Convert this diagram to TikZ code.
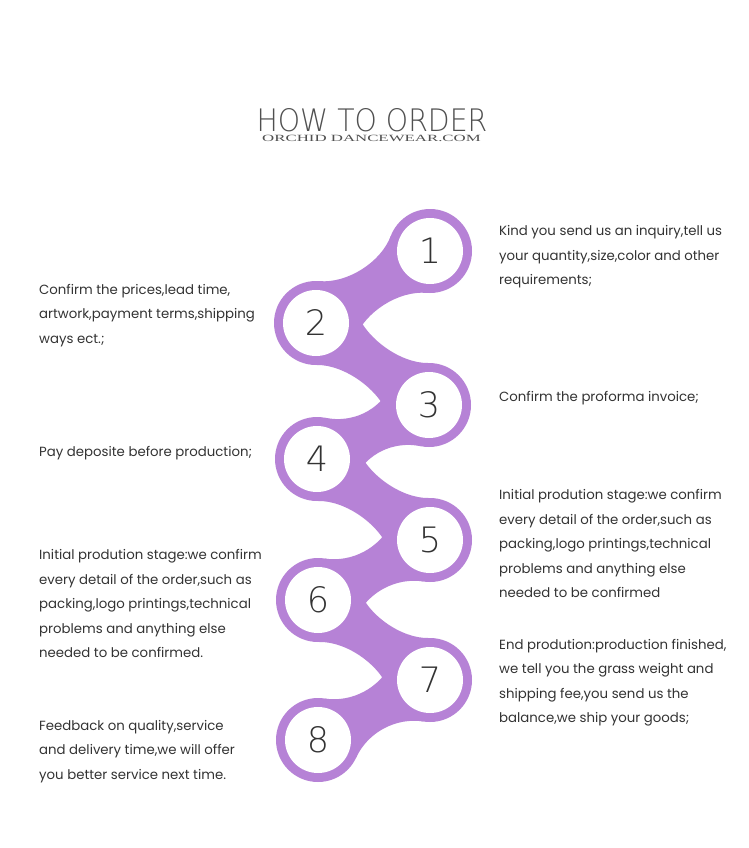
\documentclass[tikz,border=0pt]{standalone}
\usepackage{fontspec}
\usepackage{graphicx}
\setmainfont{Poppins}
\newfontfamily\thinfont{DejaVuSans-ExtraLight.ttf}
\newfontfamily\serifcaps{Liberation Serif}
\usetikzlibrary{calc}
\definecolor{orchid}{RGB}{182,130,214}
\definecolor{txtgray}{RGB}{51,51,51}
\definecolor{titlegray}{RGB}{80,80,80}
\def\R{42}
\def\A{53}
\def\S{28}
\pgfmathsetmacro\Rc{sqrt(\R*\R+\S*\S)}
\pgfmathsetmacro\Ac{\A-atan(\S/\R)}
\newcommand\blobpair[2]{%
  \fill[orchid] ($(#1)!\R pt!\A:(#2)$)
    .. controls ($(#1)!\Rc pt!\Ac:(#2)$) and ($(#2)!\Rc pt!-\Ac:(#1)$) .. ($(#2)!\R pt!-\A:(#1)$)
    -- ($(#2)!\R pt!\A:(#1)$)
    .. controls ($(#2)!\Rc pt!\Ac:(#1)$) and ($(#1)!\Rc pt!-\Ac:(#2)$) .. ($(#1)!\R pt!-\A:(#2)$)
    -- cycle;}
\begin{document}
\begin{tikzpicture}[x=1pt,y=-1pt,
  hole/.style={circle, fill=white, minimum size=66pt, inner sep=0pt,
    font=\thinfont\fontsize{35}{35}\selectfont, text=txtgray},
  txt/.style={anchor=base west, inner sep=0pt,
    font=\fontsize{13.3}{15}\selectfont, text=txtgray}]
\useasboundingbox[fill=white] (0,0) rectangle (749,848);
% title
\node[anchor=base, inner sep=0pt, text=titlegray,
  font=\thinfont\fontsize{31}{31}\selectfont] (title) at (372,131.5)
  {\scalebox{0.915}[1]{HOW TO ORDER}};
\node[anchor=base, inner sep=0pt, text=titlegray,
  font=\serifcaps\fontsize{9.5}{9.5}\selectfont] (sub) at (371.5,141.5)
  {\scalebox{1.77}[1]{ORCHID DANCEWEAR.COM}};
% circle centres
\coordinate (p1) at (430,251);
\coordinate (p2) at (316,323);
\coordinate (p3) at (429,405);
\coordinate (p4) at (317,459);
\coordinate (p5) at (430,540);
\coordinate (p6) at (318,600);
\coordinate (p7) at (430,680);
\coordinate (p8) at (318,740);
% purple body
\foreach \i in {1,...,8} \fill[orchid] (p\i) circle (\R);
\blobpair{p1}{p2}
\blobpair{p2}{p3}
\blobpair{p3}{p4}
\blobpair{p4}{p5}
\blobpair{p5}{p6}
\blobpair{p6}{p7}
\blobpair{p7}{p8}
% white holes with numbers
\foreach \i in {1,...,8} \node[hole] (c\i) at (p\i) {\i};
% texts right
\foreach \l [count=\i] in {{Kind you send us an inquiry,tell us},{your quantity,size,color and other},{requirements;}}
  \node[txt] (t1-\i) at (499,{235.5+24.5*(\i-1)}) {\l};
\node[txt] (t3-1) at (499,401.5) {Confirm the proforma invoice;};
\foreach \l [count=\i] in {{Initial prodution stage:we confirm},{every detail of the order,such as},{packing,logo printings,technical},{problems and anything else},{needed to be confirmed}}
  \node[txt] (t5-\i) at (499,{499.5+24.5*(\i-1)}) {\l};
\foreach \l [count=\i] in {{End prodution:production finished,},{we tell you the grass weight and},{shipping fee,you send us the},{balance,we ship your goods;}}
  \node[txt] (t7-\i) at (499,{649+24.5*(\i-1)}) {\l};
% texts left
\foreach \l [count=\i] in {{Confirm the prices,lead time,},{artwork,payment terms,shipping},{ways ect.;}}
  \node[txt] (t2-\i) at (39,{294+24.5*(\i-1)}) {\l};
\node[txt] (t4-1) at (39,456) {Pay deposite before production;};
\foreach \l [count=\i] in {{Initial prodution stage:we confirm},{every detail of the order,such as},{packing,logo printings,technical},{problems and anything else},{needed to be confirmed.}}
  \node[txt] (t6-\i) at (39,{559.5+24.5*(\i-1)}) {\l};
\foreach \l [count=\i] in {{Feedback on quality,service},{and delivery time,we will offer},{you better service next time.}}
  \node[txt] (t8-\i) at (39,{730+24.5*(\i-1)}) {\l};
\end{tikzpicture}
\end{document}
